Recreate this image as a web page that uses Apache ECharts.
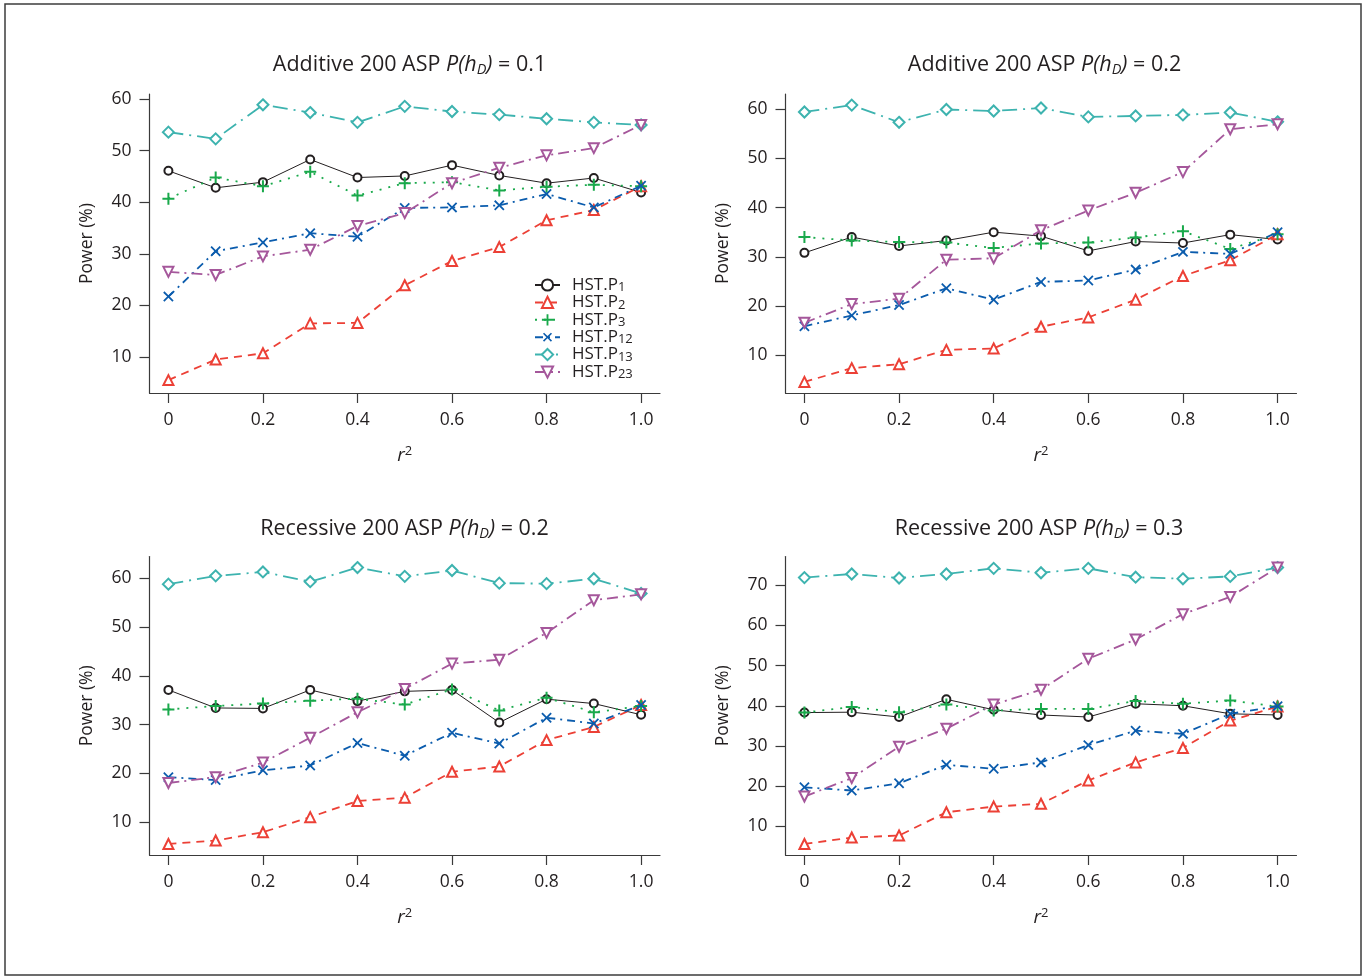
<!DOCTYPE html>
<html>
<head>
<meta charset="utf-8">
<script src="https://cdn.jsdelivr.net/npm/echarts@6/dist/echarts.min.js"></script>
<style>
  html, body { margin: 0; padding: 0; background: #fff; }
  #chart { width: 1368px; height: 977px; }
</style>
</head>
<body>
<div id="chart"></div>
<script>
// ---------------- data ----------------
const r2 = [0, 0.1, 0.2, 0.3, 0.4, 0.5, 0.6, 0.7, 0.8, 0.9, 1.0];
const seriesNames = ['HST.P1', 'HST.P2', 'HST.P3', 'HST.P12', 'HST.P13', 'HST.P23'];

const titlePrefix = ['Additive 200 ASP', 'Additive 200 ASP', 'Recessive 200 ASP', 'Recessive 200 ASP'];
const titleValue = ['0.1', '0.2', '0.2', '0.3'];

const xTicks = [0, 0.2, 0.4, 0.6, 0.8, 1.0];
const yTicksA = [10, 20, 30, 40, 50, 60];
const yTicksB = [10, 20, 30, 40, 50, 60, 70];

// Panel 1: Additive, P(hD)=0.1
const add01_P1  = [46.1, 42.8, 43.9, 48.3, 44.8, 45.1, 47.2, 45.2, 43.7, 44.7, 41.9];
const add01_P2  = [5.5, 9.5, 10.7, 16.5, 16.6, 23.9, 28.6, 31.3, 36.5, 38.5, 43.1];
const add01_P3  = [40.7, 44.8, 43.1, 45.9, 41.3, 43.7, 43.9, 42.3, 43.0, 43.4, 43.1];
const add01_P12 = [21.7, 30.5, 32.2, 34.0, 33.3, 38.9, 39.0, 39.4, 41.6, 39.0, 43.2];
const add01_P13 = [53.6, 52.3, 58.9, 57.4, 55.5, 58.6, 57.6, 57.0, 56.2, 55.5, 55.0];
const add01_P23 = [26.5, 25.9, 29.5, 30.8, 35.4, 37.9, 43.7, 46.7, 49.1, 50.5, 55.0];

// Panel 2: Additive, P(hD)=0.2
const add02_P1  = [30.8, 34.0, 32.2, 33.3, 35.0, 34.2, 31.2, 33.1, 32.8, 34.5, 33.5];
const add02_P2  = [4.6, 7.4, 8.2, 11.1, 11.4, 15.8, 17.7, 21.3, 26.1, 29.3, 34.6];
const add02_P3  = [34.0, 33.3, 33.0, 32.9, 31.8, 32.7, 32.9, 33.9, 35.2, 31.6, 34.6];
const add02_P12 = [15.9, 18.1, 20.2, 23.6, 21.3, 24.9, 25.2, 27.4, 31.0, 30.6, 35.0];
const add02_P13 = [59.4, 60.8, 57.3, 59.9, 59.6, 60.2, 58.4, 58.6, 58.8, 59.3, 57.4];
const add02_P23 = [16.6, 20.4, 21.5, 29.4, 29.7, 35.4, 39.4, 43.0, 47.2, 55.9, 56.9];

// Panel 3: Recessive, P(hD)=0.2
const rec02_P1  = [37.1, 33.4, 33.3, 37.1, 34.8, 36.8, 37.1, 30.4, 35.2, 34.3, 32.0];
const rec02_P2  = [5.5, 6.2, 7.9, 11.0, 14.3, 15.0, 20.3, 21.4, 26.8, 29.5, 34.0];
const rec02_P3  = [33.1, 33.8, 34.3, 34.9, 35.3, 34.1, 37.2, 32.9, 35.5, 32.5, 33.8];
const rec02_P12 = [19.2, 18.6, 20.6, 21.6, 26.2, 23.6, 28.3, 26.1, 31.4, 30.2, 34.0];
const rec02_P13 = [58.8, 60.5, 61.3, 59.3, 62.2, 60.4, 61.6, 59.0, 58.9, 59.9, 56.9];
const rec02_P23 = [18.0, 19.2, 22.2, 27.3, 32.5, 37.3, 42.5, 43.3, 48.8, 55.5, 56.7];

// Panel 4: Recessive, P(hD)=0.3
const rec03_P1  = [38.3, 38.4, 37.2, 41.6, 39.0, 37.7, 37.2, 40.5, 40.0, 38.0, 37.7];
const rec03_P2  = [5.6, 7.2, 7.7, 13.5, 14.9, 15.6, 21.4, 25.9, 29.5, 36.3, 39.8];
const rec03_P3  = [38.3, 39.7, 38.4, 40.3, 38.8, 39.2, 39.2, 41.2, 40.5, 41.3, 39.8];
const rec03_P12 = [19.7, 18.9, 20.7, 25.3, 24.3, 25.9, 30.2, 33.8, 33.0, 38.0, 39.9];
const rec03_P13 = [71.9, 72.8, 71.8, 72.8, 74.2, 73.1, 74.2, 72.0, 71.6, 72.2, 74.4];
const rec03_P23 = [17.4, 22.0, 29.8, 34.3, 40.3, 44.0, 51.7, 56.5, 62.8, 67.1, 74.4];

const panelData = [
  [add01_P1, add01_P2, add01_P3, add01_P12, add01_P13, add01_P23],
  [add02_P1, add02_P2, add02_P3, add02_P12, add02_P13, add02_P23],
  [rec02_P1, rec02_P2, rec02_P3, rec02_P12, rec02_P13, rec02_P23],
  [rec03_P1, rec03_P2, rec03_P3, rec03_P12, rec03_P13, rec03_P23]
];
const panelYTicks = [yTicksA, yTicksA, yTicksA, yTicksB];

// ---------------- styles / layout ----------------
const FONT = '"Open Sans", "Noto Sans", sans-serif';
const TXT = '#231f20';
const AXIS = '#3a3a3a';

const plusPath = 'path://M5,0H7V5H12V7H7V12H5V7H0V5H5Z';
const crossPath = 'path://M5.6,0H7.4V5.6H13V7.4H7.4V13H5.6V7.4H0V5.6H5.6Z';

const styles = [
  { color: '#231f20', type: 'solid', width: 1, symbol: 'emptyCircle', size: 8, rotate: 0, border: 1 },
  { color: '#ec4036', type: [8, 6], width: 1.8, symbol: 'emptyTriangle', size: 10, rotate: 0, border: 1.9 },
  { color: '#19a94b', type: [2, 7], width: 1.8, symbol: plusPath, size: 12, rotate: 0, border: 0 },
  { color: '#0b5cad', type: [8, 5, 2, 5], width: 1.8, symbol: crossPath, size: 13, rotate: 45, border: 0 },
  { color: '#3db3af', type: [15, 6, 2, 6], width: 1.8, symbol: 'emptyDiamond', size: 11, rotate: 0, border: 1.9 },
  { color: '#a5579b', type: [11, 5, 2, 5], width: 1.8, symbol: 'emptyTriangle', size: 10, rotate: 180, border: 1.9 }
];

const grids = [
  { left: 149.5, top: 94, width: 510.5, height: 299 },
  { left: 785.5, top: 94, width: 511, height: 299 },
  { left: 149.5, top: 556.5, width: 510.5, height: 298.5 },
  { left: 785.5, top: 556.5, width: 511, height: 298.5 }
];
const yLimits = [[3.0, 61.0], [2.35, 63.05], [3.23, 64.47], [2.85, 77.15]];
const titleCenters = [[409.5, 64.5], [1044.5, 64.5], [404.5, 528.5], [1039, 528.5]];

const option = {
  animation: false,
  backgroundColor: '#ffffff',
  graphic: [{
    type: 'rect',
    shape: { x: 5, y: 4, width: 1356, height: 971 },
    style: { fill: 'none', stroke: '#3c3c3c', lineWidth: 1.5 },
    silent: true
  }],
  title: titleCenters.map((c, i) => ({
    text: '{n|' + titlePrefix[i] + ' }{i|P(h}{is|D}{i|)}{n| = ' + titleValue[i] + '}',
    left: c[0],
    top: c[1] - 13,
    padding: 0,
    textAlign: 'center',
    textVerticalAlign: 'top',
    textStyle: {
      fontFamily: FONT, fontSize: 21.5, color: TXT, fontWeight: 'normal',
      rich: {
        n: { fontFamily: FONT, fontSize: 21.5, lineHeight: 26, color: TXT },
        i: { fontFamily: FONT, fontSize: 21.5, lineHeight: 26, color: TXT, fontStyle: 'italic' },
        is: { fontFamily: FONT, fontSize: 14.5, lineHeight: 14, color: TXT, fontStyle: 'italic', verticalAlign: 'bottom' }
      }
    }
  })),
  legend: {
    show: true,
    orient: 'vertical',
    left: 534,
    top: 276.5,
    padding: 0,
    itemWidth: 25,
    itemHeight: 14,
    itemGap: 0,
    data: seriesNames,
    formatter: name => name.replace(/^HST\.P(\d+)$/, '{m|HST.P}{s|$1}'),
    textStyle: {
      fontFamily: FONT, fontSize: 17, color: TXT,
      padding: [0, 0, 0, 7],
      rich: {
        m: { fontFamily: FONT, fontSize: 17, lineHeight: 17.8, color: TXT },
        s: { fontFamily: FONT, fontSize: 13, lineHeight: 8, color: TXT, verticalAlign: 'bottom' }
      }
    }
  },
  grid: grids.map(g => Object.assign({ containLabel: false, outerBoundsMode: 'none' }, g)),
  xAxis: grids.map((g, i) => ({
    type: 'value',
    gridIndex: i,
    min: -0.04,
    max: 1.04,
    splitLine: { show: false },
    axisLine: { show: true, onZero: false, lineStyle: { color: AXIS, width: 1.2 } },
    axisTick: { show: true, customValues: xTicks, length: 10, lineStyle: { color: AXIS, width: 1.2 } },
    axisLabel: {
      customValues: xTicks,
      formatter: v => (v === 0 ? '0' : v.toFixed(1)),
      margin: 18,
      fontFamily: FONT, fontSize: 17.5, color: TXT
    },
    name: '{r|r}{p|2}',
    nameLocation: 'middle',
    nameGap: 52,
    nameTextStyle: {
      rich: {
        r: { fontFamily: FONT, fontSize: 19, lineHeight: 22, color: TXT, fontStyle: 'italic' },
        p: { fontFamily: FONT, fontSize: 13, lineHeight: 13, color: TXT, verticalAlign: 'top' }
      }
    }
  })),
  yAxis: grids.map((g, i) => ({
    type: 'value',
    gridIndex: i,
    min: yLimits[i][0],
    max: yLimits[i][1],
    splitLine: { show: false },
    axisLine: { show: true, onZero: false, lineStyle: { color: AXIS, width: 1.2 } },
    axisTick: { show: true, customValues: panelYTicks[i], length: 10, lineStyle: { color: AXIS, width: 1.2 } },
    axisLabel: {
      customValues: panelYTicks[i],
      margin: 18,
      fontFamily: FONT, fontSize: 17.5, color: TXT
    },
    name: 'Power (%)',
    nameLocation: 'middle',
    nameGap: 52,
    nameTextStyle: { fontFamily: FONT, fontSize: 17.5, lineHeight: 20, color: TXT }
  })),
  series: []
};

panelData.forEach((arrs, p) => {
  arrs.forEach((vals, k) => {
    const s = styles[k];
    option.series.push({
      type: 'line',
      name: seriesNames[k],
      xAxisIndex: p,
      yAxisIndex: p,
      data: r2.map((x, j) => [x, vals[j]]),
      symbol: s.symbol,
      symbolSize: s.size,
      symbolRotate: s.rotate,
      showSymbol: true,
      color: s.color,
      lineStyle: { color: s.color, width: s.width, type: s.type },
      itemStyle: { color: s.color, borderColor: s.color, borderWidth: s.border },
      emphasis: { disabled: true },
      z: 2 + k
    });
  });
});

const chart = echarts.init(document.getElementById('chart'), null, { renderer: 'canvas' });
chart.setOption(option);
</script>
</body>
</html>
